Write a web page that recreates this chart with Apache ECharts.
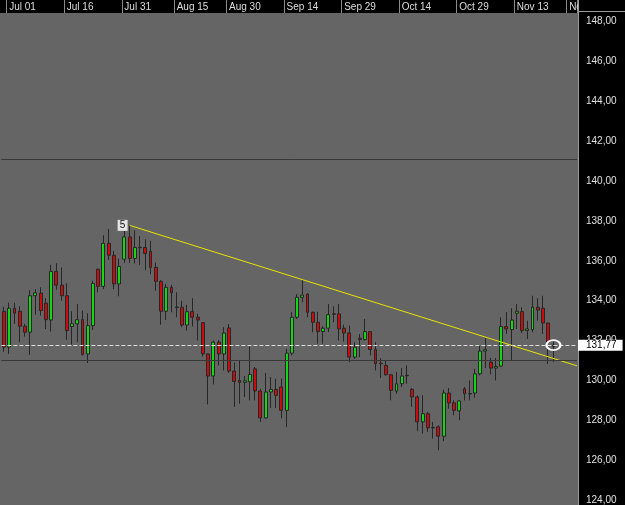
<!DOCTYPE html>
<html>
<head>
<meta charset="utf-8">
<script src="https://cdn.jsdelivr.net/npm/echarts@6/dist/echarts.min.js"></script>
<style>
html, body { margin: 0; padding: 0; background: #656565; }
#chart { width: 625px; height: 505px; }
</style>
</head>
<body>
<div id="chart"></div>
<script>
// daily candles
const opens = [
  133.46, 131.67, 133.62, 133.47, 132.72, 132.42, 134.25, 134.38, 133.88, 133.03,
  135.47, 134.78, 134.25, 132.70, 132.84, 133.05, 131.33, 132.75, 135.58, 134.72,
  136.88, 136.28, 134.84, 136.08, 137.20, 136.12, 136.68, 136.67, 136.47, 135.67,
  134.97, 133.47, 134.67, 133.68, 133.67, 132.78, 133.45, 133.17, 132.90, 131.33,
  130.22, 131.92, 131.33, 132.63, 130.47, 130.00, 129.90, 129.93, 130.58, 129.47,
  128.12, 129.42, 129.55, 129.67, 128.50, 131.37, 133.17, 134.17, 134.33, 133.42,
  132.92, 132.45, 132.62, 133.34, 133.34, 132.62, 132.38, 131.17, 132.12, 132.05,
  132.45, 131.55, 130.86, 130.75, 130.28, 129.46, 129.83, 130.26, 129.55, 129.17,
  127.92, 128.33, 127.64, 127.67, 127.20, 129.37, 128.88, 128.47, 129.58, 129.34,
  129.37, 130.33, 131.47, 130.92, 130.62, 130.72, 132.70, 132.55, 133.37, 133.45,
  132.50, 132.55, 133.67, 133.62, 132.88, 131.70
]
const closes = [
  131.67, 133.62, 133.37, 132.72, 132.42, 134.25, 134.39, 133.50, 133.05, 135.47,
  134.78, 134.25, 132.50, 132.84, 133.05, 131.30, 132.75, 134.87, 134.72, 136.88,
  136.28, 134.84, 135.72, 137.20, 136.12, 136.67, 136.66, 136.37, 135.67, 134.97,
  133.47, 134.67, 134.40, 133.66, 132.78, 133.45, 133.17, 133.03, 131.33, 130.22,
  131.92, 131.33, 132.38, 130.47, 129.95, 129.90, 129.98, 130.30, 129.47, 128.12,
  129.42, 129.55, 129.25, 128.50, 131.37, 133.17, 134.17, 134.28, 133.42, 132.92,
  132.45, 132.62, 133.30, 133.32, 132.58, 132.38, 131.17, 131.67, 132.05, 132.45,
  131.55, 130.84, 130.84, 130.28, 129.50, 129.83, 130.22, 130.24, 129.17, 127.92,
  128.33, 127.62, 127.62, 127.20, 129.37, 128.87, 128.50, 128.97, 129.33, 129.32,
  130.33, 131.47, 131.55, 130.62, 130.70, 132.70, 132.58, 133.03, 133.47, 132.50,
  132.58, 133.67, 133.53, 132.88, 131.92, 131.77
]
const lows = [
  131.44, 131.33, 132.84, 131.92, 132.20, 131.28, 133.30, 133.25, 132.58, 132.45,
  134.55, 134.00, 132.04, 131.80, 131.92, 131.25, 130.87, 132.53, 134.42, 134.58,
  136.05, 134.58, 134.22, 135.90, 135.90, 135.87, 135.80, 135.53, 135.33, 134.50,
  132.80, 133.04, 133.42, 133.17, 132.67, 132.50, 132.70, 132.00, 131.20, 128.80,
  129.80, 130.75, 130.50, 130.38, 128.67, 128.83, 129.17, 129.00, 129.00, 127.92,
  128.08, 128.62, 128.62, 128.10, 127.67, 131.25, 133.08, 133.92, 133.17, 132.42,
  131.84, 131.84, 132.42, 132.92, 132.00, 131.95, 130.92, 131.08, 131.17, 132.00,
  131.25, 130.50, 130.12, 130.25, 129.00, 129.33, 129.67, 129.83, 128.67, 127.45,
  127.33, 127.42, 127.08, 126.50, 126.95, 128.58, 128.25, 128.00, 129.00, 129.00,
  129.13, 130.25, 130.62, 130.30, 130.00, 130.67, 132.33, 131.03, 132.58, 132.37,
  132.08, 132.42, 133.00, 132.33, 130.83, 130.92
]
const highs = [
  133.69, 133.90, 133.90, 133.72, 132.84, 134.53, 134.58, 134.67, 134.13, 135.80,
  135.88, 135.67, 134.87, 133.47, 133.83, 133.50, 133.37, 135.00, 135.60, 137.28,
  137.60, 136.50, 136.12, 137.50, 137.78, 137.53, 137.25, 137.08, 137.00, 135.92,
  135.03, 134.84, 134.80, 134.42, 134.00, 133.80, 134.12, 133.34, 132.92, 131.35,
  132.00, 132.03, 132.67, 132.83, 130.90, 131.00, 130.22, 131.70, 130.67, 129.58,
  130.37, 130.17, 130.08, 130.10, 131.58, 133.42, 134.33, 135.08, 134.38, 133.45,
  133.45, 132.72, 133.83, 133.72, 133.83, 132.80, 132.75, 131.92, 132.33, 133.08,
  132.45, 131.92, 131.12, 131.00, 130.33, 130.42, 130.62, 130.75, 129.62, 129.25,
  129.25, 128.42, 127.92, 127.75, 129.53, 129.62, 129.00, 129.00, 129.67, 130.00,
  130.58, 131.75, 132.12, 131.13, 131.13, 133.17, 133.43, 133.62, 133.83, 133.67,
  133.00, 134.25, 134.13, 134.25, 132.90, 131.92
]

const slotCount = 110 // candles plus empty room on the right
const tickIdx = [1, 12, 23, 33, 43, 54, 65, 76, 87, 98, 108]
const tickLabels = ['Jul 01', 'Jul 16', 'Jul 31', 'Aug 15', 'Aug 30', 'Sep 14', 'Sep 29', 'Oct 14', 'Oct 29', 'Nov 13', 'Nov 28']
const lastPrice = 131.77
const levels = [141.08, 131.03]
const trendLine = [[24, 137.78], [109.5, 130.73]]
const trendTag = '5'

const font = 'Liberation Sans, Arial, sans-serif'
const fmt = v => v.toFixed(2).replace('.', ',')

const cats = Array.from({ length: slotCount }, (_, i) => String(i))
const candles = opens.map((o, i) => [o, closes[i], lows[i], highs[i]])

const chart = echarts.init(document.getElementById('chart'))
chart.setOption({
  animation: false,
  backgroundColor: '#656565',
  grid: { left: 1.4, right: 48, top: 13, bottom: 3.3 },
  graphic: [
    { type: 'rect', shape: { x: 0, y: 0, width: 625, height: 13 }, style: { fill: '#000' }, z: 1 },
    { type: 'rect', shape: { x: 578, y: 0, width: 47, height: 505 }, style: { fill: '#000' }, z: 10 },
    { type: 'line', shape: { x1: 578.5, y1: 0, x2: 578.5, y2: 505 }, style: { stroke: '#9a9a9a', lineWidth: 1 }, z: 11 },
    { type: 'line', shape: { x1: 578, y1: 11.5, x2: 625, y2: 11.5 }, style: { stroke: '#9a9a9a', lineWidth: 1 }, z: 11 }
  ],
  xAxis: [{
    type: 'category',
    position: 'top',
    data: cats,
    boundaryGap: true,
    z: 5,
    axisLine: { show: false },
    axisTick: {
      show: true,
      length: 13,
      interval: i => tickIdx.includes(i),
      lineStyle: { color: '#8a8a8a' }
    },
    axisLabel: {
      interval: i => tickIdx.includes(i),
      formatter: (v, i) => tickLabels[tickIdx.indexOf(i)] || '',
      align: 'left',
      margin: 1,
      color: '#dcdcdc',
      fontSize: 10,
      fontFamily: font
    },
    splitLine: { show: false }
  }, {
    type: 'value',
    show: false,
    min: -0.5,
    max: slotCount - 0.5
  }],
  yAxis: {
    type: 'value',
    position: 'right',
    min: 124,
    max: 148.435,
    interval: 2,
    z: 20,
    axisLine: { show: false },
    axisTick: { show: false },
    splitLine: { show: false },
    axisLabel: {
      formatter: fmt,
      margin: 9,
      color: '#e0e0e0',
      fontSize: 10,
      fontFamily: font,
      showMaxLabel: false
    }
  },
  series: [{
    type: 'candlestick',
    data: candles,
    barWidth: 3.4,
    clip: false,
    z: 30,
    itemStyle: {
      color: '#14d614',
      color0: '#cc0c0c',
      borderColor: '#262626',
      borderColor0: '#262626',
      borderColorDoji: '#262626',
      borderWidth: 1
    },
    markLine: {
      silent: true,
      z: 40,
      symbol: ['none', 'none'],
      data: [
        { yAxis: levels[0], lineStyle: { color: '#383838', type: 'solid', width: 1 }, label: { show: false } },
        { yAxis: levels[1], lineStyle: { color: '#383838', type: 'solid', width: 1 }, label: { show: false } },
        {
          yAxis: lastPrice,
          lineStyle: { color: '#dcdcdc', type: [4, 2], width: 1 },
          label: {
            show: true,
            position: 'end',
            distance: 1,
            formatter: fmt(lastPrice),
            color: '#000',
            backgroundColor: '#fff',
            fontSize: 10,
            fontFamily: font,
            lineHeight: 10,
            padding: [1, 6, 0, 8]
          }
        }
      ]
    },
    markPoint: {
      silent: true,
      z: 41,
      data: [{
        coord: [105, lastPrice],
        symbol: 'path://M0 5A7 5 0 1 0 14 5A7 5 0 1 0 0 5Z',
        symbolSize: [14, 10],
        itemStyle: { color: 'rgba(0,0,0,0)', borderColor: '#fff', borderWidth: 2 },
        label: { show: false }
      }]
    }
  }, {
    type: 'line',
    xAxisIndex: 1,
    data: trendLine,
    symbol: 'none',
    z: 31,
    lineStyle: { color: '#e6e600', width: 1 },
    markPoint: {
      silent: true,
      z: 42,
      data: [{
        coord: trendLine[0],
        symbol: 'rect',
        symbolSize: [10, 11],
        symbolOffset: [-7, 0],
        itemStyle: { color: '#e4e4e4' },
        label: { show: true, position: 'inside', formatter: trendTag, color: '#111', fontSize: 10, fontFamily: font }
      }]
    }
  }]
})
</script>
</body>
</html>
